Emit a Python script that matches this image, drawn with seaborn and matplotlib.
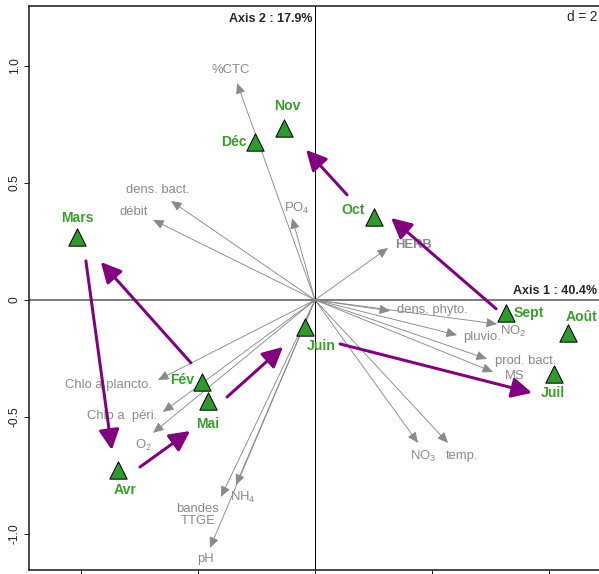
import numpy as np
import pandas as pd
import seaborn as sns
from matplotlib import pyplot as plt

# months (site scores on axes 1 and 2)
months = ["Mars", "Nov", "Déc", "Oct", "Sept", "Août", "Juil", "Juin", "Fév", "Mai", "Avr"]
month_x = [-1.017, -0.132, -0.256, 0.252, 0.816, 1.081, 1.021, -0.043, -0.483, -0.457, -0.842]
month_y = [0.269, 0.735, 0.675, 0.355, -0.056, -0.141, -0.316, -0.115, -0.350, -0.432, -0.726]

# variables (arrows from origin)
variables = ["%CTC", "dens. bact.", "débit", "PO$_4$", "HERB", "dens. phyto.", "NO$_2$",
             "pluvio.", "prod. bact.", "MS", "NO$_3$", "temp.", "NH$_4$", "bandes\nTTGE",
             "pH", "O$_2$", "Chlo a  péri.", "Chlo a plancto."]
var_x = [-0.333, -0.615, -0.692, -0.098, 0.312, 0.321, 0.778, 0.607, 0.735, 0.761,
         0.440, 0.568, -0.338, -0.402, -0.449, -0.692, -0.650, -0.671]
var_y = [0.927, 0.423, 0.342, 0.350, 0.222, -0.047, -0.103, -0.150, -0.252, -0.308,
         -0.611, -0.611, -0.791, -0.842, -1.060, -0.568, -0.479, -0.342]

# trajectory arrows between months
traj_x0 = [-0.979, -0.748, -0.376, 0.107, 0.774, 0.137, -0.530]
traj_y0 = [0.167, -0.714, -0.415, -0.188, -0.038, 0.449, -0.269]
traj_x1 = [-0.868, -0.534, -0.137, 0.927, 0.325, -0.038, -0.915]
traj_y1 = [-0.641, -0.560, -0.201, -0.397, 0.350, 0.641, 0.162]

# label placement (offset in points from the mark, horizontal alignment)
month_off = [(0, 19), (3, 22), (-21, 0), (-21, 7), (23, 0), (14, 16), (-1, -19),
             (16, -19), (-20, 2), (0, -23), (7, -20)]
var_off = [((-6, 13), "center"), ((-13, 11), "center"), ((-5, 8), "right"),
           ((5, 10), "center"), ((25, 3), "center"), ((7, 1), "left"),
           ((3, -7), "left"), ((6, -2), "left"), ((8, -2), "left"), ((12, -4), "left"),
           ((5, -14), "center"), ((14, -13), "center"), ((7, -12), "center"),
           ((-23, -18), "center"), ((-4, -11), "center"), ((-10, -13), "center"),
           ((-6, -4), "right"), ((-6, -5), "right")]

green = "#2e9a2e"
green_txt = "#3a9e2e"
grey = "#8a8a8a"
purple = "#800080"

sns.set_style("white")
plt.rcParams["font.family"] = ["Liberation Sans", "DejaVu Sans"]
plt.rcParams["mathtext.default"] = "regular"

df = pd.DataFrame({"month": months, "x": month_x, "y": month_y})

fig = plt.figure(figsize=(599 / 72, 574 / 72), dpi=72)
ax = fig.add_axes([29 / 599, 4 / 574, 576 / 599, 564 / 574])

# variable arrows
for name, x, y, (off, ha) in zip(variables, var_x, var_y, var_off):
    ax.annotate("", xy=(x, y), xytext=(0, 0),
                arrowprops=dict(arrowstyle="-|>,head_length=0.45,head_width=0.2",
                                mutation_scale=20, color=grey, lw=0.9,
                                shrinkA=0, shrinkB=0), zorder=2)
    bold = "bold" if name == "HERB" else "normal"
    ax.annotate(name, xy=(x, y), xytext=off, textcoords="offset points",
                ha=ha, va="center", color=grey, fontsize=13, fontweight=bold,
                linespacing=1.1, zorder=3)

ax.axvline(0, color="black", lw=1, zorder=1)
ax.axhline(0, color="#555555", lw=1.5, zorder=1)

# trajectory
for x0, y0, x1, y1 in zip(traj_x0, traj_y0, traj_x1, traj_y1):
    ax.annotate("", xy=(x1, y1), xytext=(x0, y0),
                arrowprops=dict(arrowstyle="-|>,head_length=0.85,head_width=0.43",
                                mutation_scale=20, color=purple, lw=3,
                                shrinkA=0, shrinkB=0), zorder=4)

sns.scatterplot(data=df, x="x", y="y", marker="^", s=300, color=green,
                edgecolor="black", linewidth=1, ax=ax, zorder=5, legend=False)

for name, x, y, off in zip(months, month_x, month_y, month_off):
    ax.annotate(name, xy=(x, y), xytext=off, textcoords="offset points",
                ha="center", va="center", color=green_txt, fontsize=14,
                fontweight="bold", zorder=6)

ax.text(-0.009, 1.20, "Axis 2 : 17.9%", ha="right", va="center", fontsize=12.5, fontweight="bold")
ax.text(1.205, 0.038, "Axis 1 : 40.4%", ha="right", va="center", fontsize=12.5, fontweight="bold")
ax.text(1.205, 1.209, "d = 2", ha="right", va="center", fontsize=13.5)

ax.set_xlim(-1.222, 1.239)
ax.set_ylim(-1.154, 1.256)
ax.set_xlabel("")
ax.set_ylabel("")
ax.set_xticks([-1.0, -0.5, 0, 0.5, 1.0])
ax.set_xticklabels([])
ax.set_yticks([-1.0, -0.5, 0, 0.5, 1.0])
ax.set_yticklabels(["-1.0", "-0.5", "0", "0.5", "1.0"], rotation=90, va="center", fontsize=12)
ax.tick_params(axis="both", direction="out", length=5, width=1, color="#222222", left=True, bottom=True, pad=3)
for s in ax.spines.values():
    s.set_color("#222222")
    s.set_linewidth(1.6)

fig.savefig("out.png", dpi=72)
